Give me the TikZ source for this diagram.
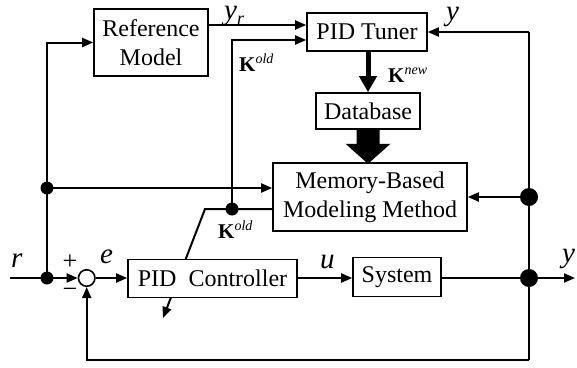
\documentclass[tikz,border=0pt]{standalone}
\usepackage{fontspec}
\setmainfont{Liberation Serif}
\usetikzlibrary{arrows.meta,calc}
\pgfdeclarelayer{bgl}
\pgfdeclarelayer{midl}
\pgfsetlayers{bgl,midl,main}
\begin{document}
\begin{tikzpicture}[x=1pt,y=-1pt,
  >={Triangle[length=11pt,width=9pt]},
  conn/.style={line width=2pt},
  box/.style={draw, fill=white, line width=1.6pt, inner sep=0pt, align=center,
    font=\fontsize{24}{29}\selectfont},
  dot/.style={circle, fill, inner sep=0pt, minimum size=13pt},
  bigdot/.style={circle, fill, inner sep=0pt, minimum size=18pt},
  lbl/.style={inner sep=0pt, anchor=base west},
  var/.style={lbl, font=\fontsize{29}{29}\selectfont\itshape},
  sgn/.style={inner sep=0pt, font=\fontsize{26}{26}\selectfont},
  klbl/.style={lbl, font=\fontsize{21}{21}\selectfont}]
\useasboundingbox (0,0) rectangle (577,367);
\begin{pgfonlayer}{bgl}
  \fill[white] (0,0) rectangle (577,367);
\end{pgfonlayer}

% blocks
\node[box, minimum width=114pt, minimum height=67pt] (refm) at (151,42.5) {Reference\\Model};
\node[box, minimum width=120pt, minimum height=38pt] (tuner) at (367,32) {PID Tuner};
\node[box, minimum width=104pt, minimum height=36pt] (db) at (368,111) {Database};
\node[box, minimum width=194pt, minimum height=68pt] (mbm) at (370,197) {Memory-Based\\Modeling Method};
\node[box, minimum width=169pt, minimum height=38pt] (pid) at (212.5,278.5) {PID\ \ Controller};
\node[box, minimum width=88pt, minimum height=39pt] (sys) at (397,277) {System};
\node[circle, draw, fill=white, line width=1.6pt, minimum size=16.5pt, inner sep=0pt] (sum) at (86.7,278) {};

% junctions
\node[dot] (j1) at (47,278) {};
\node[dot] (j2) at (47,188) {};
\node[dot] (j3) at (232,209) {};
\node[bigdot] (j4) at (529,197) {};
\node[bigdot] (j5) at (529,278) {};

\coordinate (rin) at (10,278);
\coordinate (yout) at (575,278);
\coordinate (ktip) at (163,318);
\coordinate (kbend) at (205,209);
\coordinate (ytop) at (529,32);
\coordinate (fbl) at (529,360);
\coordinate (refup) at (47,42.5);
\coordinate (kup) at (232,40);
\coordinate (yrl) at (208,25);

% K^old to controller (behind the controller box)
\begin{pgfonlayer}{midl}
  \draw[conn, ->, line join=miter] (mbm.west |- j3) -- (kbend) -- (ktip);
\end{pgfonlayer}

% connectors
\draw[conn, ->] (rin) -- (j1.center) -- (sum.west);
\draw[conn, ->] (j1.center) -- (refup) -- (refm.west);
\draw[conn, ->] (j2.center) -- (mbm.west |- j2);
\draw[conn, ->] (yrl) -- (tuner.west |- yrl);
\draw[conn, ->] (j3.center) -- (kup) -- (tuner.west |- kup);
\draw[conn, ->] (sum.east) -- (pid.west |- sum.east);
\draw[conn, ->] (pid.east |- j5) -- (sys.west |- j5);
\draw[conn, ->] (sys.east |- j5) -- (yout);
\draw[conn, ->] (ytop) -- (tuner.east);
\draw[conn] (ytop) -- (fbl);
\draw[conn, ->] (fbl) -- (sum.south |- fbl) -- (sum.south);
\draw[conn, ->] (j4.center) -- (mbm.east |- j4);
\draw[line width=5pt, -{Triangle[length=16pt,width=17pt]}] (db.north |- tuner.south) -- (db.north);
\fill ($(db.south)+(-11.5,0)$) -- ($(db.south)+(-11.5,14)$) -- ($(db.south)+(-22.5,14)$)
  -- ($(db.south)+(0,34)$) -- ($(db.south)+(22.5,14)$) -- ($(db.south)+(11.5,14)$)
  -- ($(db.south)+(11.5,0)$) -- cycle;

% labels
\node[var] (lyr) at (224,19) {y\raisebox{-5pt}{\fontsize{18}{18}\selectfont r}};
\node[klbl] (lk1) at (239,71) {\textbf{K}\raisebox{8pt}{\fontsize{14}{14}\selectfont\itshape old}};
\node[var] (lyt) at (446,20) {y};
\node[klbl] (lk2) at (388,82) {\textbf{K}\raisebox{8pt}{\fontsize{14}{14}\selectfont\itshape new}};
\node[var] (lr) at (11,267) {r};
\node[sgn] (lp) at (70,262) {+};
\node[sgn] (lm) at (70,293) {\textminus};
\node[var] (le) at (100,263) {e};
\node[klbl] (lk3) at (218,238) {\textbf{K}\raisebox{8pt}{\fontsize{14}{14}\selectfont\itshape old}};
\node[var] (lu) at (320,268) {u};
\node[var] (lyo) at (562,262) {y};
\end{tikzpicture}
\end{document}
